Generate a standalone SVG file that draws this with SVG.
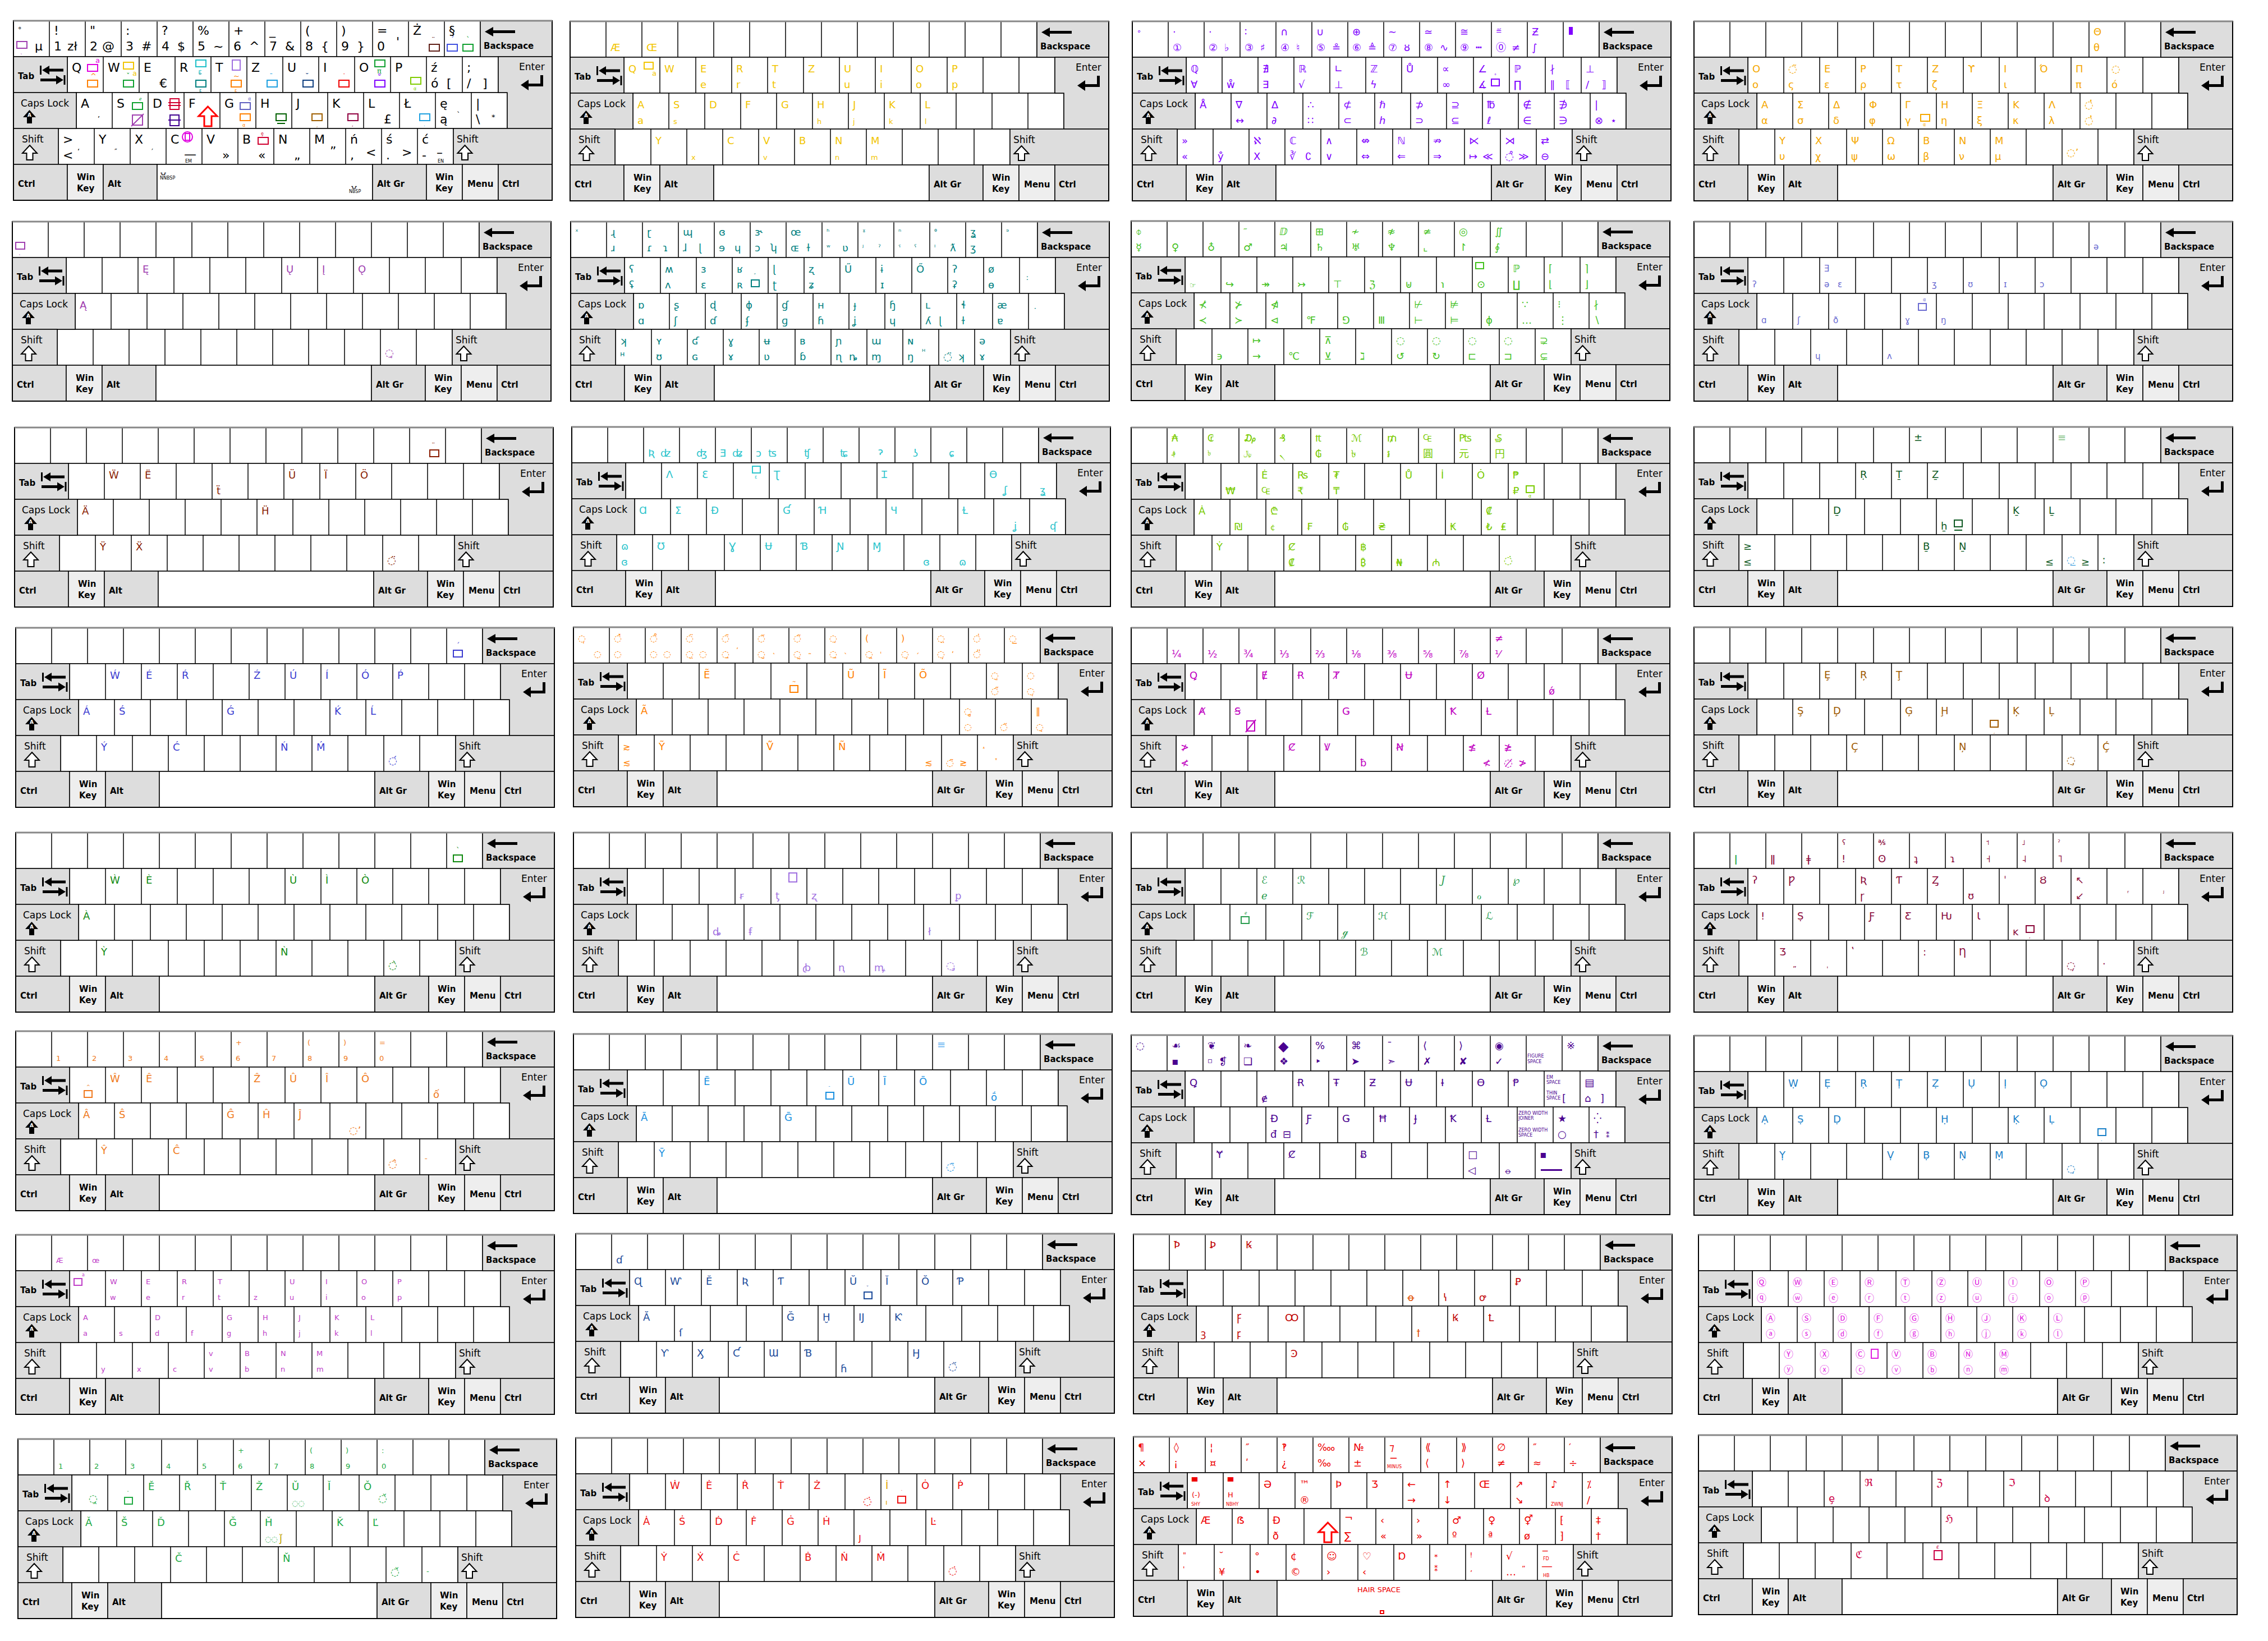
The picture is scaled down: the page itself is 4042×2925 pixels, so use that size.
<svg xmlns="http://www.w3.org/2000/svg" xmlns:xlink="http://www.w3.org/1999/xlink" width="4042" height="2925" viewBox="0 0 4042 2925">
<style>
.w{fill:#fff;stroke:#000;stroke-width:1.5}
.g{fill:#ddd;stroke:#000;stroke-width:1.5}
.l{fill:#eee;stroke:#000;stroke-width:1.5}
.lb{font:bold 15px "DejaVu Sans",sans-serif;fill:#000}
.lr{font:17px "DejaVu Sans",sans-serif;fill:#000}
.io{fill:#fff;stroke:#000;stroke-width:2}
.ch{font-family:"DejaVu Sans","Noto Sans","Noto Sans CJK SC",sans-serif;font-size:18px;fill:currentColor}
.L{font-size:22px}
.s{font-size:13px}
.t{font-size:8px}
.bx{fill:none;stroke:currentColor;stroke-width:2}
.sc{font-family:"DejaVu Serif",serif;font-style:italic}
.pu{color:#a040b0}.br{color:#602018}.bl{color:#4050e0}.gr{color:#10a030}.mg{color:#e000e0}.or{color:#ff8000}.ye{color:#f0c400}.cy{color:#20c0c8}.te{color:#008080}.la{color:#a070e0}.lbl{color:#1ea0e0}.nv{color:#104080}.rd{color:#f00000}.vi{color:#8000ff}.yg{color:#80cc00}.cr{color:#d00030}.in{color:#400090}.sb{color:#6060c0}.dg{color:#006000}.bn{color:#a06000}.mr{color:#900040}
</style>
<defs>
<path id="ra" d="M346.5 153L363 170H353V188H340V170H330Z" fill="#fff" stroke="#f00" stroke-width="3"/>
<g id="kb">
<path class="w" d="M0 0h64v64h-64z m64 0h64v64h-64z m64 0h64v64h-64z m64 0h64v64h-64z m64 0h64v64h-64z m64 0h64v64h-64z m64 0h64v64h-64z m64 0h64v64h-64z m64 0h64v64h-64z m64 0h64v64h-64z m64 0h64v64h-64z m64 0h64v64h-64z m64 0h64v64h-64z"/>
<path class="w" d="M96 64h64v64h-64z m64 0h64v64h-64z m64 0h64v64h-64z m64 0h64v64h-64z m64 0h64v64h-64z m64 0h64v64h-64z m64 0h64v64h-64z m64 0h64v64h-64z m64 0h64v64h-64z m64 0h64v64h-64z m64 0h64v64h-64z m64 0h64v64h-64z"/>
<path class="w" d="M112 128h64v64h-64z m64 0h64v64h-64z m64 0h64v64h-64z m64 0h64v64h-64z m64 0h64v64h-64z m64 0h64v64h-64z m64 0h64v64h-64z m64 0h64v64h-64z m64 0h64v64h-64z m64 0h64v64h-64z m64 0h64v64h-64z m64 0h64v64h-64z"/>
<path class="w" d="M80 192h64v64h-64z m64 0h64v64h-64z m64 0h64v64h-64z m64 0h64v64h-64z m64 0h64v64h-64z m64 0h64v64h-64z m64 0h64v64h-64z m64 0h64v64h-64z m64 0h64v64h-64z m64 0h64v64h-64z m64 0h64v64h-64z"/>
<rect class="g" x="832" y="0" width="128" height="64"/>
<rect class="g" x="0" y="64" width="96" height="64"/>
<path class="g" d="M864 64H960V192H880V128H864Z"/>
<rect class="g" x="0" y="128" width="112" height="64"/>
<rect class="g" x="0" y="192" width="80" height="64"/>
<rect class="g" x="784" y="192" width="176" height="64"/>
<rect class="g" x="0" y="256" width="96" height="64"/>
<rect class="l" x="96" y="256" width="64" height="64"/>
<rect class="g" x="160" y="256" width="96" height="64"/>
<rect class="w" x="256" y="256" width="384" height="64"/>
<rect class="g" x="640" y="256" width="96" height="64"/>
<rect class="l" x="736" y="256" width="64" height="64"/>
<rect class="l" x="800" y="256" width="64" height="64"/>
<rect class="g" x="864" y="256" width="96" height="64"/>
<rect x="0" y="0" width="960" height="320" fill="none" stroke="#000" stroke-width="2"/>
<path d="M0 0H960" stroke="#888" stroke-width="3"/>
<path d="M840 19.5L855 11V17H894V22H855V28Z"/>
<rect x="47" y="80" width="3" height="16"/><path d="M51 88L64 80V85.5H89V90.5H64V96Z"/>
<path d="M48 103H76V97.5L89 105.5L76 113.5V108H48Z"/><rect x="89.5" y="97" width="3" height="17"/>
<path d="M904 114.5L918 105V112H939V97H944V117H918V124Z"/>
<path d="M28.5 159L40 172H33V183H24V172H17Z"/><text x="28.5" y="171" text-anchor="middle" style="font:bold 9px 'DejaVu Sans',sans-serif;fill:#fff">A</text>
<path class="io" d="M29 222L42 236H34.5V248H23.5V236H16Z"/>
<path class="io" d="M804.5 222L817.5 236H810V248H799V236H791.5Z"/>
<text class="lb" x="838" y="50">Backspace</text>
<text class="lb" x="8" y="104">Tab</text>
<text class="lr" x="901" y="88">Enter</text>
<text class="lr" x="13" y="153">Caps Lock</text>
<text class="lr" x="15" y="217">Shift</text>
<text class="lr" x="790" y="217">Shift</text>
<text class="lb" x="8" y="296">Ctrl</text>
<text class="lb" x="113" y="284">Win</text><text class="lb" x="113" y="304">Key</text>
<text class="lb" x="168" y="296">Alt</text>
<text class="lb" x="648" y="296">Alt Gr</text>
<text class="lb" x="752" y="284">Win</text><text class="lb" x="752" y="304">Key</text>
<text class="lb" x="809" y="296">Menu</text>
<text class="lb" x="871" y="296">Ctrl</text>
</g>
</defs>

<g id="kb01" transform="translate(24 37)"><use href="#kb"/>
<g class="ch L" style="color:#000">
<text class="s" x="8" y="20">°</text><rect class="bx pu" x="6" y="37" width="18" height="12"/><text class="t pu" x="12" y="58">˛</text><text x="38" y="53">μ</text>
<text x="72" y="25">!</text><text x="72" y="53">1</text><text x="96" y="53">zł</text>
<text x="136" y="25">"</text><text x="136" y="53">2</text><text x="158" y="53">@</text>
<text x="200" y="25">:</text><text x="200" y="53">3</text><text x="228" y="53">#</text>
<text x="264" y="25">?</text><text x="264" y="53">4</text><text x="292" y="53">$</text>
<text x="328" y="25">%</text><text x="328" y="53">5</text><text x="356" y="53">~</text>
<text x="392" y="25">+</text><text x="392" y="53">6</text><text x="420" y="53">^</text>
<text x="456" y="25">_</text><text x="456" y="53">7</text><text x="484" y="53">&amp;</text>
<text x="520" y="25">(</text><text x="520" y="53">8</text><text x="548" y="53">{</text>
<text x="584" y="25">)</text><text x="584" y="53">9</text><text x="612" y="53">}</text>
<text x="648" y="25">=</text><text x="648" y="53">0</text><text x="682" y="45">'</text>
<text x="712" y="25">Ż</text><rect class="bx br" x="741" y="42" width="18" height="12"/><text class="s br" x="745" y="38">¨</text>
<text x="776" y="25">§</text><rect class="bx bl" x="773" y="42" width="18" height="12"/><text class="s bl" x="779" y="38">´</text><rect class="bx gr" x="801" y="42" width="18" height="12"/><text class="s gr" x="807" y="38">`</text>
<text x="104" y="91">Q</text><rect class="bx mg" x="132" y="78" width="18" height="12"/><text class="s mg" x="146" y="75">a</text><rect class="bx or" x="132" y="106" width="18" height="12"/><text class="s or" x="137" y="103">^</text>
<text x="168" y="91">W</text><rect class="bx ye" x="196" y="74" width="18" height="12"/><text class="s ye" x="212" y="98">a</text><rect class="bx gr" x="196" y="106" width="18" height="12"/><text class="s gr" x="201" y="103">ˇ</text>
<text x="232" y="91">E</text><text x="260" y="119">€</text>
<text x="296" y="91">R</text><rect class="bx cy" x="325" y="70" width="18" height="12"/><text class="s cy" x="329" y="95">ε</text><rect class="bx te" x="325" y="106" width="18" height="12"/><text class="s te" x="329" y="104">˝</text><text class="t te" x="331" y="127">ε</text>
<text x="360" y="91">T</text><rect class="bx la" x="390" y="70" width="14" height="18"/><text class="s or" x="392" y="103">~</text><rect class="bx or" x="388" y="106" width="18" height="12"/><text class="t or" x="394" y="127">ε</text>
<text x="424" y="91">Z</text><rect class="bx lbl" x="452" y="106" width="18" height="12"/><text class="s lbl" x="456" y="103">¯</text>
<text x="488" y="91">U</text><rect class="bx nv" x="516" y="106" width="18" height="12"/><text class="s nv" x="520" y="103">˘</text>
<text x="552" y="91">I</text><rect class="bx rd" x="580" y="106" width="18" height="12"/><text class="s rd" x="586" y="103">˙</text>
<text x="616" y="91">O</text><rect class="bx gr" x="644" y="70" width="18" height="12"/><text class="s gr" x="648" y="94">π</text><rect class="bx vi" x="644" y="106" width="18" height="12"/><text class="s vi" x="649" y="103">°</text>
<text x="680" y="91">P</text><rect class="bx yg" x="708" y="101" width="18" height="12"/><text class="t yg" x="713" y="124">α</text>
<text x="744" y="91">ź</text><text x="744" y="119">ó</text><text x="772" y="119">[</text>
<text x="808" y="91">;</text><text x="808" y="119">/</text><text x="836" y="119">]</text>
<text x="120" y="155">A</text><text class="s" x="150" y="172">,</text>
<text x="184" y="155">S</text><rect class="bx gr" x="212" y="146" width="18" height="12"/><text class="t gr" x="224" y="142">ℯ</text><rect class="bx pu" x="212" y="168" width="18" height="18"/><path class="bx pu" d="M210 188L232 166"/>
<text x="248" y="155">D</text><rect class="bx cr" x="279" y="139" width="16" height="19"/><path class="bx cr" d="M276 146H298M276 151H298"/><rect class="bx in" x="279" y="168" width="16" height="19"/><path class="bx in" d="M276 177H298"/>
<text x="312" y="155">F</text><use href="#ra"/>
<text x="376" y="155">G</text><rect class="bx sb" x="404" y="146" width="18" height="12"/><text class="t sb" x="418" y="142">α</text><rect class="bx or" x="404" y="166" width="18" height="12"/><text class="t or" x="408" y="189">α</text>
<text x="440" y="155">H</text><rect class="bx dg" x="468" y="166" width="18" height="12"/><path class="bx dg" d="M470 183H484"/>
<text x="504" y="155">J</text><rect class="bx bn" x="532" y="166" width="18" height="12"/><text class="t bn" x="539" y="188">¸</text>
<text x="568" y="155">K</text><rect class="bx mr" x="596" y="166" width="18" height="12"/><text class="t mr" x="603" y="188">,</text>
<text x="632" y="155">L</text><text x="660" y="183">£</text>
<text x="696" y="155">Ł</text><rect class="bx lbl" x="724" y="166" width="18" height="12"/><text class="t lbl" x="731" y="188">.</text>
<text x="760" y="155">ę</text><text x="760" y="183">ą</text><text class="s" x="790" y="172">`</text>
<text x="824" y="155">|</text><text x="824" y="183">\</text><text class="s" x="852" y="176">*</text>
<text x="88" y="219">&gt;</text><text x="88" y="247">&lt;</text><text class="s" x="114" y="237">‘</text>
<text x="152" y="219">Y</text><text class="s" x="180" y="237">″</text>
<text x="216" y="219">X</text><text class="s" x="246" y="237">′</text>
<text x="280" y="219">C</text><circle class="bx mg" cx="310" cy="207" r="9"/><rect class="bx mg" x="306" y="201" width="8" height="12"/><text x="304" y="245">—</text><text class="t" x="306" y="253">EM</text>
<text x="344" y="219">V</text><text x="372" y="247">»</text>
<text x="408" y="219">B</text><rect class="bx cr" x="436" y="208" width="18" height="12"/><text class="t cr" x="441" y="204">ȩ</text><text x="436" y="247">«</text>
<text x="472" y="219">N</text><text x="500" y="247">„</text>
<text x="536" y="219">M</text><text x="564" y="240">”</text>
<text x="600" y="219">ń</text><text x="600" y="247">,</text><text x="628" y="242">&lt;</text>
<text x="664" y="219">ś</text><text x="664" y="247">.</text><text x="692" y="242">&gt;</text>
<text x="728" y="219">ć</text><text x="728" y="247">-</text><text x="754" y="242">–</text><text class="t" x="756" y="253">EN</text>
<text class="s" x="262" y="272">⍽</text><text class="t" x="261" y="283">NNBSP</text>
<text class="s" x="602" y="296">⍽</text><text class="t" x="598" y="307">NBSP</text>
</g></g>

<g id="kb02" transform="translate(1016 38)"><use href="#kb"/>
<g class="ch" style="color:#f2c500">
<text x="72" y="53">Æ</text><text x="136" y="53">Œ</text>
<text x="104" y="91">Q</text><rect class="bx" x="132" y="73" width="16" height="12"/><text class="s" x="146" y="97">a</text>
<text x="168" y="91">W</text><text x="232" y="91">E</text><text x="232" y="119">e</text><text x="296" y="91">R</text><text x="296" y="119">r</text><text x="360" y="91">T</text><text x="360" y="119">t</text><text x="424" y="91">Z</text><text x="488" y="91">U</text><text x="488" y="119">u</text><text x="552" y="91">I</text><text x="552" y="119">i</text><text x="616" y="91">O</text><text x="616" y="119">o</text><text x="680" y="91">P</text><text x="680" y="119">p</text>
<text x="120" y="155">A</text><text x="120" y="183">a</text><text x="184" y="155">S</text><text class="s" x="184" y="183">s</text><text x="248" y="155">D</text><text x="312" y="155">F</text><text x="376" y="155">G</text><text x="440" y="155">H</text><text class="s" x="440" y="183">h</text><text x="504" y="155">J</text><text class="s" x="504" y="183">j</text><text x="568" y="155">K</text><text class="s" x="568" y="183">k</text><text x="632" y="155">L</text><text class="s" x="632" y="183">l</text>
<text x="152" y="219">Y</text><text class="s" x="216" y="247">x</text><text x="280" y="219">C</text><text x="344" y="219">V</text><text class="s" x="344" y="247">v</text><text x="408" y="219">B</text><text x="472" y="219">N</text><text class="s" x="472" y="247">n</text><text x="536" y="219">M</text><text class="s" x="536" y="247">m</text>
</g></g>

<g id="kb03" transform="translate(2018 38)"><use href="#kb"/>
<g class="ch" style="color:#8000ff">
<text class="s" x="8" y="22">∘</text>
<text x="72" y="25">·</text><text x="72" y="53">①</text>
<text x="136" y="25">·</text><text x="136" y="53">②</text><text x="164" y="53">♭</text>
<text x="200" y="25">∶</text><text x="200" y="53">③</text><text x="228" y="53">♯</text>
<text x="264" y="25">∩</text><text x="264" y="53">④</text><text x="292" y="53">♮</text>
<text x="328" y="25">∪</text><text x="328" y="53">⑤</text><text x="356" y="53">≗</text>
<text x="392" y="25">⊕</text><text x="392" y="53">⑥</text><text x="420" y="53">≜</text>
<text x="456" y="25">∼</text><text x="456" y="53">⑦</text><text x="484" y="53">ȣ</text>
<text x="520" y="25">≃</text><text x="520" y="53">⑧</text><text x="548" y="53">∿</text>
<text x="584" y="25">≅</text><text x="584" y="53">⑨</text><text x="612" y="53">┅</text>
<text class="s" x="648" y="22">≝</text><text x="648" y="53">⓪</text><text x="676" y="53">≠</text>
<text x="712" y="25">Ƶ</text><text x="712" y="53">∫</text>
<rect x="778" y="10" width="7" height="14" fill="#8000ff"/>
<text x="104" y="91">ℚ</text><text x="104" y="119">∀</text>
<text x="168" y="119">ẘ</text>
<text x="232" y="91">∄</text><text x="232" y="119">∃</text>
<text x="296" y="91">ℝ</text><text x="296" y="119">√</text>
<text x="360" y="91">∟</text><text x="360" y="119">⊥</text>
<text x="424" y="91">ℤ</text><text x="424" y="119">ϟ</text>
<text x="488" y="91">Ů</text>
<text x="552" y="91">∝</text><text x="552" y="119">∞</text>
<text x="616" y="91">∠</text><text x="616" y="119">∡</text><rect class="bx" x="640" y="103" width="14" height="12"/><text class="t" x="645" y="100">°</text>
<text x="680" y="91">ℙ</text><text x="680" y="119">∏</text>
<text x="744" y="91">∤</text><text x="744" y="119">∥</text><text x="772" y="119">⟦</text>
<text x="808" y="91">⊥</text><text x="808" y="119">/</text><text x="836" y="119">⟧</text>
<text x="120" y="155">Å</text>
<text x="184" y="155">∇</text><text x="184" y="183">↔</text>
<text x="248" y="155">∆</text><text x="248" y="183">∂</text>
<text x="312" y="155">∴</text><text x="312" y="183">∷</text>
<text x="376" y="155">⊄</text><text x="376" y="183">⊂</text>
<text x="440" y="155">ℏ</text><text x="440" y="183">ℎ</text>
<text x="504" y="155">⊅</text><text x="504" y="183">⊃</text>
<text x="568" y="155">⊇</text><text x="568" y="183">⊆</text>
<text x="632" y="155">℔</text><text x="632" y="183">ℓ</text>
<text x="696" y="155">∉</text><text x="696" y="183">∈</text>
<text x="760" y="155">∌</text><text x="760" y="183">∋</text>
<text x="824" y="155">|</text><text x="824" y="183">⊗</text><text x="852" y="183">⋆</text>
<text x="88" y="219">»</text><text x="88" y="247">«</text>
<text x="152" y="247">ẙ</text>
<text x="216" y="219">ℵ</text><text x="216" y="247">X</text>
<text x="280" y="219">ℂ</text><text x="280" y="247">∛</text><text x="308" y="247">∁</text>
<text x="344" y="219">∧</text><text x="344" y="247">∨</text>
<text x="408" y="219">⇎</text><text x="408" y="247">⇔</text>
<text x="472" y="219">ℕ</text><text x="472" y="247">⇐</text>
<text x="536" y="219">⇏</text><text x="536" y="247">⇒</text>
<text x="600" y="219">⋉</text><text x="600" y="247">↦</text><text x="624" y="247">≪</text>
<text x="664" y="219">⋊</text><text x="664" y="247">◌̊</text><text x="688" y="247">≫</text>
<text x="728" y="219">⇄</text><text x="728" y="247">⊖</text>
</g></g>

<g id="kb04" transform="translate(3019 38)"><use href="#kb"/>
<g class="ch" style="color:#f5a800">
<text x="712" y="25">Θ</text><text x="712" y="53">θ</text>
<text x="104" y="91">Ο</text><text x="104" y="119">ο</text>
<text x="168" y="91">◌̃</text><text x="168" y="119">ς</text>
<text x="232" y="91">Ε</text><text x="232" y="119">ε</text>
<text x="296" y="91">Ρ</text><text x="296" y="119">ρ</text>
<text x="360" y="91">Τ</text><text x="360" y="119">τ</text>
<text x="424" y="91">Ζ</text><text x="424" y="119">ζ</text>
<text x="488" y="91">ϒ</text>
<text x="552" y="91">Ι</text><text x="552" y="119">ι</text>
<text x="616" y="91">Ό</text>
<text x="680" y="91">Π</text><text x="680" y="119">π</text>
<text x="744" y="91">◌</text><text x="744" y="119">ό</text>
<text x="120" y="155">Α</text><text x="120" y="183">α</text>
<text x="184" y="155">Σ</text><text x="184" y="183">σ</text>
<text x="248" y="155">Δ</text><text x="248" y="183">δ</text>
<text x="312" y="155">Φ</text><text x="312" y="183">φ</text>
<text x="376" y="155">Γ</text><text x="376" y="183">γ</text><rect class="bx" x="404" y="166" width="16" height="12"/><text class="t" x="408" y="187">α</text>
<text x="440" y="155">Η</text><text x="440" y="183">η</text>
<text x="504" y="155">Ξ</text><text x="504" y="183">ξ</text>
<text x="568" y="155">Κ</text><text x="568" y="183">κ</text>
<text x="632" y="155">Λ</text><text x="632" y="183">λ</text>
<text x="696" y="155">◌̔</text><text x="696" y="183">◌̓</text>
<text x="152" y="219">Υ</text><text x="152" y="247">υ</text>
<text x="216" y="219">Χ</text><text x="216" y="247">χ</text>
<text x="280" y="219">Ψ</text><text x="280" y="247">ψ</text>
<text x="344" y="219">Ω</text><text x="344" y="247">ω</text>
<text x="408" y="219">Β</text><text x="408" y="247">β</text>
<text x="472" y="219">Ν</text><text x="472" y="247">ν</text>
<text x="536" y="219">Μ</text><text x="536" y="247">μ</text>
<text x="664" y="240">◌ʼ</text>
</g></g>

<g id="kb05" transform="translate(22 395)"><use href="#kb"/>
<g class="ch" style="color:#a040b0">
<rect class="bx" x="6" y="37" width="16" height="12"/><text class="t" x="11" y="58">˛</text>
<text x="232" y="91">Ę</text><text x="488" y="91">Ų</text><text x="552" y="91">Į</text><text x="616" y="91">Ǫ</text>
<text x="120" y="155">Ą</text>
<text x="664" y="240">◌̨</text>
</g></g>

<g id="kb06" transform="translate(1017 395)"><use href="#kb"/>
<g class="ch" style="color:#008080">
<text class="s" x="8" y="22">ˣ</text>
<text x="72" y="25">ɻ</text><text x="72" y="53">ɹ</text>
<text x="136" y="25">ɽ</text><text x="136" y="53">ɾ</text><text x="164" y="53">ɿ</text>
<text x="200" y="25">ɰ</text><text x="200" y="53">ɺ</text><text x="228" y="53">ɭ</text>
<text x="264" y="25">ɞ</text><text x="264" y="53">ɘ</text><text x="292" y="53">ɥ</text>
<text x="328" y="25">ɝ</text><text x="328" y="53">ɔ</text><text x="356" y="53">ʮ</text>
<text x="392" y="25">œ</text><text x="392" y="53">ɶ</text><text x="420" y="53">ɫ</text>
<text class="s" x="456" y="22">ʰ</text><text class="s" x="456" y="50">ʷ</text><text x="484" y="53">ʋ</text>
<text class="s" x="520" y="22">ˠ</text><text class="s" x="520" y="50">ʲ</text><text class="s" x="548" y="50">ˀ</text>
<text class="s" x="584" y="22">ⁿ</text><text class="s" x="584" y="50">ˤ</text><text class="s" x="612" y="50">ˁ</text>
<text class="s" x="648" y="22">ᶿ</text><text class="s" x="648" y="50">ˡ</text><text x="676" y="53">ƛ</text>
<text x="712" y="25">ʓ</text><text x="712" y="53">ʒ</text>
<text class="s" x="776" y="22">ᵊ</text>
<text x="104" y="91">ʕ</text><text x="104" y="119">ʢ</text>
<text x="168" y="91">ʍ</text><text x="168" y="119">ʌ</text>
<text x="232" y="91">ɜ</text><text x="232" y="119">ɛ</text>
<text x="296" y="91">ʁ</text><text x="296" y="119">ʀ</text><rect class="bx" x="322" y="104" width="14" height="12"/><text class="t" x="326" y="100">˝</text>
<text x="360" y="91">ɭ</text><text x="360" y="119">ʈ</text>
<text x="424" y="91">ʐ</text><text x="424" y="119">ʑ</text>
<text x="488" y="91">Ű</text>
<text x="552" y="91">ɨ</text><text x="552" y="119">ɪ</text>
<text x="616" y="91">Ő</text>
<text x="680" y="91">ʔ</text><text x="680" y="119">ʡ</text>
<text x="744" y="91">ø</text><text x="744" y="119">ɵ</text>
<text class="s" x="812" y="104">ː</text>
<text x="120" y="155">ɒ</text><text x="120" y="183">ɑ</text>
<text x="184" y="155">ʂ</text><text x="184" y="183">ʃ</text>
<text x="248" y="155">ɖ</text><text x="248" y="183">ɗ</text>
<text x="312" y="155">ɸ</text><text x="312" y="183">ʄ</text>
<text x="376" y="155">ɠ</text><text x="376" y="183">ɡ</text>
<text x="440" y="155">ʜ</text><text x="440" y="183">ɦ</text>
<text x="504" y="155">ɟ</text><text x="504" y="183">ʝ</text>
<text x="568" y="155">ɧ</text><text x="568" y="183">ɥ</text>
<text x="632" y="155">ʟ</text><text x="632" y="183">ʎ</text><text x="656" y="183">ɭ</text>
<text x="696" y="155">ɬ</text><text x="696" y="183">ɫ</text>
<text x="760" y="155">æ</text><text x="760" y="183">ɐ</text>
<text class="s" x="826" y="160">ˑ</text>
<text x="88" y="219">ʞ</text><text class="s" x="88" y="240">ʜ</text>
<text x="152" y="219">ʏ</text><text x="152" y="247">ʊ</text>
<text x="216" y="219">ʛ</text><text x="216" y="247">ɢ</text>
<text x="280" y="219">ɣ</text><text x="280" y="247">ɤ</text>
<text x="344" y="219">ʉ</text><text x="344" y="247">ʋ</text>
<text x="408" y="219">ʙ</text><text x="408" y="247">ɓ</text>
<text x="472" y="219">ɲ</text><text x="472" y="247">ɳ</text><text x="496" y="247">ȵ</text>
<text x="536" y="219">ɯ</text><text x="536" y="247">ɱ</text>
<text x="600" y="219">ɴ</text><text x="600" y="247">ŋ</text><text class="s" x="626" y="236">ᴴ</text>
<text x="664" y="247">◌̈</text><text x="690" y="247">ʞ</text>
<text x="728" y="219">ə</text><text x="728" y="247">ɤ</text>
</g></g>

<g id="kb07" transform="translate(2016 394)"><use href="#kb"/>
<g class="ch" style="color:#44c21e">
<text x="8" y="25">⌽</text><text x="8" y="53">☿</text>
<text x="72" y="53">♀</text>
<text x="136" y="53">♁</text>
<text class="s" x="200" y="22">‴</text><text x="200" y="53">♂</text>
<text x="264" y="25">ⅅ</text><text x="264" y="53">♃</text>
<text x="328" y="25">⊞</text><text x="328" y="53">♄</text>
<text x="392" y="25">≁</text><text x="392" y="53">♅</text>
<text x="456" y="25">≉</text><text x="456" y="53">♆</text>
<text x="520" y="25">≄</text><text x="520" y="53">⌞</text>
<text x="584" y="25">◎</text><text x="584" y="53">↾</text>
<text x="648" y="25">∬</text><text x="648" y="53">∮</text>
<text class="s" x="104" y="119">☞</text>
<text x="168" y="119">↪</text>
<text x="232" y="119">↠</text>
<text x="296" y="119">↣</text>
<text x="360" y="119">⊤</text>
<text x="424" y="119">ℨ</text>
<text x="488" y="119">⊎</text>
<text x="552" y="119">℩</text>
<rect class="bx" x="614" y="74" width="14" height="11"/><text x="616" y="119">⊙</text>
<text x="680" y="91">ℙ</text><text x="680" y="119">∐</text>
<text x="744" y="91">⌈</text><text x="744" y="119">⌊</text>
<text x="808" y="91">⌉</text><text x="808" y="119">⌋</text>
<text x="120" y="155">⊀</text><text x="120" y="183">≺</text>
<text x="184" y="155">⊁</text><text x="184" y="183">≻</text>
<text x="248" y="155">⋪</text><text x="248" y="183">⊲</text>
<text x="312" y="183">℉</text>
<text x="376" y="183">⅁</text>
<text x="440" y="183">Ⅲ</text>
<text x="504" y="155">⊬</text><text x="504" y="183">⊢</text>
<text x="568" y="155">⊭</text><text x="568" y="183">⊨</text>
<text x="632" y="183">ϕ</text>
<text x="696" y="155">∵</text><text x="696" y="183">…</text>
<text x="760" y="155">⁝</text><text x="760" y="183">⋮</text>
<text x="824" y="155">∤</text><text x="824" y="183">∖</text>
<text x="152" y="247">϶</text>
<text x="216" y="219">↦</text><text x="216" y="247">→</text>
<text x="280" y="247">℃</text>
<text x="344" y="219">⊼</text><text x="344" y="247">⊻</text>
<text x="408" y="247">ℷ</text>
<text x="472" y="219">◌</text><text x="472" y="247">↺</text>
<text x="536" y="219">◌</text><text x="536" y="247">↻</text>
<text x="600" y="219">◌</text><text x="600" y="247">⊏</text>
<text x="664" y="219">◌</text><text x="664" y="247">⊐</text>
<text x="728" y="219">⊋</text><text x="728" y="247">⊊</text>
</g></g>

<g id="kb08" transform="translate(3019 395)"><use href="#kb"/>
<g class="ch" style="color:#6a6ad0;font-size:15px">
<text x="712" y="50">ə</text>
<text x="104" y="117">ʔ</text>
<text x="232" y="89">Ǝ</text><text x="232" y="117">ə</text><text x="256" y="117">ɛ</text>
<text x="424" y="117">ʒ</text><text x="488" y="117">ʊ</text><text x="552" y="117">ɪ</text><text x="616" y="117">ɔ</text>
<text x="120" y="181">ɑ</text><text x="184" y="181">ʃ</text><text x="248" y="181">ð</text>
<text x="376" y="181">ɣ</text><rect class="bx" x="400" y="146" width="14" height="12"/><text class="t" x="408" y="142">α</text>
<text x="440" y="181">ŋ</text>
<text x="216" y="245">ɥ</text><text x="344" y="245">ʌ</text>
</g></g>

<g id="kb09" transform="translate(26 762)"><use href="#kb"/>
<g class="ch" style="color:#8a1c00">
<rect class="bx" x="740" y="40" width="16" height="12"/><text class="s" x="743" y="36">¨</text>
<text x="168" y="91">Ẅ</text><text x="232" y="91">Ë</text><text x="360" y="119">ẗ</text><text x="488" y="91">Ü</text><text x="552" y="91">Ï</text><text x="616" y="91">Ö</text>
<text x="120" y="155">Ä</text><text x="440" y="155">Ḧ</text>
<text x="152" y="219">Ÿ</text><text x="216" y="219">Ẍ</text><text x="664" y="243">◌̈</text>
</g></g>

<g id="kb10" transform="translate(1019 761)"><use href="#kb"/>
<g class="ch" style="color:#2cc4cc">
<text x="136" y="53">Ʀ</text><text x="158" y="53">ʣ</text>
<text x="222" y="53">ʤ</text>
<text x="264" y="53">Ǝ</text><text x="286" y="53">ʥ</text>
<text x="328" y="53">ɔ</text><text x="350" y="53">ʦ</text>
<text x="414" y="53">ʧ</text>
<text x="478" y="53">ʨ</text>
<text x="546" y="50">ɂ</text>
<text x="608" y="53">ʖ</text>
<text x="672" y="53">ɕ</text>
<text x="168" y="91">Ʌ</text><text x="232" y="91">Ɛ</text>
<rect class="bx" x="322" y="70" width="14" height="12"/><text class="t" x="326" y="92">ε</text>
<text x="360" y="91">Ʈ</text>
<text x="552" y="91">Ɪ</text>
<text x="744" y="91">Ɵ</text><text x="770" y="119">ʆ</text>
<text x="834" y="119">ʓ</text>
<text x="120" y="155">Ɑ</text><text x="184" y="155">Ʃ</text><text x="248" y="155">Ɖ</text><text x="376" y="155">Ɠ</text><text x="440" y="155">Ɦ</text><text x="568" y="155">Ɥ</text><text x="696" y="155">Ɫ</text>
<text x="788" y="183">ʝ</text><text x="852" y="183">ʠ</text>
<text x="88" y="219">ɷ</text><text x="88" y="247">ɞ</text>
<text x="152" y="219">Ʊ</text><text x="280" y="219">Ɣ</text><text x="344" y="219">Ʉ</text><text x="408" y="219">Ɓ</text><text x="472" y="219">Ɲ</text><text x="536" y="219">Ɱ</text>
<text x="626" y="247">ɞ</text><text x="690" y="247">ɷ</text>
</g></g>

<g id="kb11" transform="translate(2016 762)"><use href="#kb"/>
<g class="ch" style="color:#7acb00">
<text x="72" y="25">₳</text><text class="s" x="72" y="50">؋</text>
<text x="136" y="25">₢</text><text class="s" x="136" y="50">৳</text>
<text x="200" y="25">₯</text><text class="s" x="200" y="50">﷼</text>
<text x="264" y="25">₰</text><text x="264" y="53">৲</text>
<text x="328" y="25">₶</text><text x="328" y="53">₲</text>
<text x="392" y="25">ℳ</text><text x="392" y="53">৳</text>
<text x="456" y="25">₥</text><text x="456" y="53">៛</text>
<text x="520" y="25">₠</text><text x="520" y="53">圓</text>
<text x="584" y="25">₧</text><text x="584" y="53">元</text>
<text x="648" y="25">₷</text><text x="648" y="53">円</text>
<text x="168" y="119">₩</text>
<text x="232" y="91">Ė</text><text x="232" y="119">₠</text>
<text x="296" y="91">₨</text><text x="296" y="119">₹</text>
<text x="360" y="91">₮</text><text x="360" y="119">₸</text>
<text x="488" y="91">Ů</text><text x="552" y="91">İ</text><text x="616" y="91">Ȯ</text>
<text x="680" y="91">₱</text><text x="680" y="119">₽</text><rect class="bx" x="704" y="104" width="14" height="12"/><text class="t" x="708" y="125">α</text>
<text x="120" y="155">Ȧ</text>
<text x="184" y="183">₪</text>
<text x="248" y="155">₾</text><text class="s" x="248" y="183">₵</text>
<text x="312" y="183">₣</text>
<text x="376" y="183">₲</text>
<text x="440" y="183">₴</text>
<text x="568" y="183">₭</text>
<text x="632" y="155">₡</text><text x="632" y="183">₺</text><text x="658" y="183">₤</text>
<text x="152" y="219">Ẏ</text>
<text x="280" y="219">Ȼ</text><text x="280" y="247">₡</text>
<text x="408" y="219">฿</text><text x="408" y="247">₿</text>
<text x="472" y="247">₦</text>
<text x="536" y="247">₼</text>
<text x="664" y="243">◌̇</text>
</g></g>

<g id="kb12" transform="translate(3019 761)"><use href="#kb"/>
<g class="ch" style="color:#0f5a23">
<text x="392" y="25">±</text><text x="648" y="25" style="fill:#80c080">≡</text>
<text x="296" y="91">Ṛ</text><text x="360" y="91">Ṯ</text><text x="424" y="91">Ẕ</text>
<text x="248" y="155">Ḏ</text><text x="440" y="183">ẖ</text><rect class="bx" x="464" y="166" width="14" height="12"/><path class="bx" d="M464 184H478"/>
<text x="568" y="155">Ḵ</text><text x="632" y="155">Ḻ</text>
<text x="88" y="219">≥</text><text x="88" y="247">≤</text>
<text x="408" y="219">Ḇ</text><text x="472" y="219">Ṉ</text>
<text x="626" y="247">≤</text><text x="664" y="243" style="fill:#40a0e0">◌̲</text><text x="690" y="247">≥</text><text x="728" y="243">ː</text>
</g></g>

<g id="kb13" transform="translate(28 1119)"><use href="#kb"/>
<g class="ch" style="color:#3b3bd0">
<rect class="bx" x="780" y="40" width="16" height="12"/><text class="s" x="785" y="36">´</text>
<text x="168" y="91">Ẃ</text><text x="232" y="91">É</text><text x="296" y="91">Ŕ</text><text x="424" y="91">Ź</text><text x="488" y="91">Ú</text><text x="552" y="91">Í</text><text x="616" y="91">Ó</text><text x="680" y="91">Ṕ</text>
<text x="120" y="155">Á</text><text x="184" y="155">Ś</text><text x="376" y="155">Ǵ</text><text x="568" y="155">Ḱ</text><text x="632" y="155">Ĺ</text>
<text x="152" y="219">Ý</text><text x="280" y="219">Ć</text><text x="472" y="219">Ń</text><text x="536" y="219">Ḿ</text><text x="664" y="243">◌́</text>
</g></g>

<g id="kb14" transform="translate(1022 1118)"><use href="#kb"/>
<g class="ch" style="color:#ff8000;font-size:16px">
<text x="8" y="25">◌̩</text><text x="36" y="53">◌</text>
<text x="72" y="25">◌̽</text><text x="72" y="53">◌</text>
<text x="136" y="25">◌̊</text><text x="136" y="53">◌</text><text x="160" y="53">◌</text>
<text x="200" y="25">◌̈</text><text x="200" y="53">◌̤</text><text x="224" y="53">◌</text>
<text x="264" y="25">◌̄</text><text x="264" y="53">◌̱</text><text class="s" x="290" y="45">ʼ</text>
<text x="328" y="25">◌̆</text><text x="328" y="53">◌̮</text><text class="s" x="354" y="45">˛</text>
<text x="392" y="25">◌̃</text><text x="392" y="53">◌̰</text><text class="s" x="418" y="45">˷</text>
<text x="456" y="25">◌̣</text><text x="456" y="53">◌̱</text><text class="s" x="482" y="45">ˎ</text>
<text x="520" y="25">(</text><text x="520" y="53">◌̯</text><text class="s" x="546" y="45">ˌ</text>
<text x="584" y="25">)</text><text x="584" y="53">◌̦</text><text class="s" x="610" y="45">ˏ</text>
<text x="648" y="25">◌̤</text><text x="648" y="53">◌̦</text><text class="s" x="674" y="45">,</text>
<text x="712" y="25">◌̍</text><text x="712" y="53">◌̎</text>
<text x="776" y="25">◌̲</text>
<text style="font-size:18px" x="232" y="91">Ẽ</text><rect class="bx" x="386" y="104" width="14" height="12"/><text class="t" x="390" y="100">~</text>
<text style="font-size:18px" x="488" y="91">Ũ</text><text style="font-size:18px" x="552" y="91">Ĩ</text><text style="font-size:18px" x="616" y="91">Õ</text>
<text x="744" y="91">◌̠</text><text x="744" y="119">◌̋</text>
<text x="808" y="91">◌</text><text x="808" y="119">◌̜</text>
<text style="font-size:18px" x="120" y="155">Ã</text>
<text x="696" y="155">◌̻</text><text x="696" y="183">◌</text>
<text x="760" y="183">◌̆</text>
<text x="824" y="155">‖</text><text x="824" y="183">◌̨</text>
<text x="88" y="219">≳</text><text x="88" y="247">≲</text>
<text style="font-size:18px" x="152" y="219">Ỹ</text><text style="font-size:18px" x="344" y="219">Ṽ</text><text style="font-size:18px" x="472" y="219">Ñ</text>
<text x="626" y="247">≲</text><text x="664" y="247">◌̃</text><text x="688" y="247">≳</text>
<text class="s" x="728" y="219">˔</text><text class="s" x="750" y="240">˕</text>
</g></g>

<g id="kb15" transform="translate(2016 1119)"><use href="#kb"/>
<g class="ch" style="color:#c000c0">
<text x="72" y="53">¼</text><text x="136" y="53">½</text><text x="200" y="53">¾</text><text x="264" y="53">⅓</text><text x="328" y="53">⅔</text><text x="392" y="53">⅛</text><text x="456" y="53">⅜</text><text x="520" y="53">⅝</text><text x="584" y="53">⅞</text><text x="648" y="25">≠</text><text x="648" y="53">⅟</text>
<text x="104" y="91">Ꝗ</text><text x="232" y="91">Ɇ</text><text x="296" y="91">Ɍ</text><text x="360" y="91">Ⱦ</text><text x="488" y="91">Ʉ</text><text x="616" y="91">Ø</text><text x="744" y="119">ǿ</text>
<text x="120" y="155">Ⱥ</text><text x="184" y="155">Ꞩ</text><rect class="bx" x="206" y="166" width="14" height="18"/><path class="bx" d="M204 186L222 164"/>
<text x="376" y="155">Ǥ</text><text x="568" y="155">Ꝁ</text><text x="632" y="155">Ƚ</text>
<text x="88" y="219">≯</text><text x="88" y="247">≮</text>
<text x="280" y="219">Ȼ</text><text x="344" y="219">Ꝟ</text><text x="408" y="247">ƀ</text><text x="472" y="219">Ꞥ</text>
<text x="600" y="219">≰</text><text x="626" y="247">≮</text>
<text x="664" y="219">≱</text><text x="664" y="247">◌̸</text><text x="690" y="247">≯</text>
</g></g>

<g id="kb16" transform="translate(3019 1118)"><use href="#kb"/>
<g class="ch" style="color:#a05a00">
<text x="232" y="91">Ȩ</text><text x="296" y="91">Ŗ</text><text x="360" y="91">Ţ</text>
<text x="184" y="155">Ş</text><text x="248" y="155">Ḑ</text><text x="376" y="155">Ģ</text><text x="440" y="155">Ḩ</text><rect class="bx" x="528" y="166" width="14" height="12"/><text class="t" x="533" y="188">¸</text><text x="568" y="155">Ķ</text><text x="632" y="155">Ļ</text>
<text x="280" y="219">Ç</text><text x="472" y="219">Ņ</text><text x="664" y="243">◌̧</text><text x="728" y="219">Ḉ</text>
</g></g>

<g id="kb17" transform="translate(28 1484)"><use href="#kb"/>
<g class="ch" style="color:#108a10">
<rect class="bx" x="780" y="40" width="16" height="12"/><text class="s" x="785" y="36">`</text>
<text x="168" y="91">Ẁ</text><text x="232" y="91">È</text><text x="488" y="91">Ù</text><text x="552" y="91">Ì</text><text x="616" y="91">Ò</text>
<text x="120" y="155">À</text>
<text x="152" y="219">Ỳ</text><text x="472" y="219">Ǹ</text><text x="664" y="243">◌̀</text>
</g></g>

<g id="kb18" transform="translate(1022 1484)"><use href="#kb"/>
<g class="ch" style="color:#a070e0">
<text x="296" y="119">ꞧ</text><text x="360" y="119">ƫ</text><rect class="bx" x="384" y="72" width="14" height="16"/><text x="424" y="119">ʐ</text><text x="680" y="119">ꝑ</text>
<text x="248" y="183">ȡ</text><text x="312" y="183">ꞙ</text><text x="632" y="183">ł</text>
<text x="408" y="247">ꞗ</text><text x="472" y="247">ꞑ</text><text x="536" y="247">ꝳ</text><text x="664" y="243">◌̡</text>
</g></g>

<g id="kb19" transform="translate(2016 1484)"><use href="#kb"/>
<g class="ch" style="color:#2a9d50">
<text x="232" y="91">ℰ</text><text x="232" y="119">ℯ</text><text x="296" y="91">ℛ</text><text class="sc" x="552" y="91">J</text><text x="616" y="119">ℴ</text><text x="680" y="91">℘</text>
<rect class="bx" x="196" y="150" width="14" height="12"/><text class="t" x="202" y="146">ℯ</text>
<text x="312" y="155">ℱ</text><text x="376" y="183">ℊ</text><text x="440" y="155">ℋ</text><text x="632" y="155">ℒ</text>
<text x="408" y="219">ℬ</text><text x="536" y="219">ℳ</text>
</g></g>

<g id="kb20" transform="translate(3019 1484)"><use href="#kb"/>
<g class="ch" style="color:#8b0a3a">
<text x="72" y="53" style="fill:#20a040">ǀ</text><text x="136" y="53">ǁ</text><text x="200" y="53">ǂ</text>
<text class="s" x="264" y="22">ʕ</text><text x="264" y="53">ǃ</text>
<text class="s" x="328" y="22">℁</text><text x="328" y="53">ʘ</text>
<text x="392" y="53">ʇ</text><text x="456" y="53">ɿ</text>
<text class="s" x="520" y="22">˦</text><text x="520" y="53">˧</text>
<text class="s" x="584" y="22">˩</text><text x="584" y="53">˨</text>
<text class="s" x="648" y="22">ˀ</text><text x="648" y="53">˥</text>
<text x="104" y="91">ʔ</text><text x="168" y="91">Ƿ</text><text x="296" y="91">Ʀ</text><text x="296" y="119">ɼ</text><text x="360" y="91">Ƭ</text><text x="424" y="91">Ȥ</text><text x="488" y="119">ʊ</text><text x="552" y="91">ˈ</text><text x="616" y="91">Ȣ</text><text x="680" y="91">↖</text><text x="680" y="119">↙</text><text class="s" x="772" y="112">ʳ</text><text class="s" x="836" y="112">ʲ</text>
<text x="120" y="155">ǃ</text><text x="184" y="155">Ṣ</text><text x="312" y="155">Ƒ</text><text x="376" y="155">Ƹ</text><text x="440" y="155">Ƕ</text><text x="504" y="155">Ɩ</text><text x="568" y="183">ĸ</text><rect class="bx" x="592" y="166" width="14" height="12"/><text class="t" x="597" y="188">,</text>
<text x="152" y="219">Ʒ</text><text class="s" x="176" y="240">„</text><text class="s" x="236" y="240">ˌ</text><text x="280" y="219">ʽ</text><text x="408" y="219">꞉</text><text x="472" y="219">Ƞ</text><text x="664" y="243">◌̦</text><text x="728" y="240">·</text>
</g></g>

<g id="kb21" transform="translate(28 1838)"><use href="#kb"/>
<g class="ch" style="color:#f07a20">
<g class="s"><text x="72" y="53">1</text><text x="136" y="53">2</text><text x="200" y="53">3</text><text x="264" y="53">4</text><text x="328" y="53">5</text><text x="392" y="53">6</text><text x="456" y="53">7</text><text x="520" y="53">8</text><text x="584" y="53">9</text><text x="648" y="53">0</text><text x="392" y="25">+</text><text x="520" y="25">(</text><text x="584" y="25">)</text><text x="648" y="25">=</text></g>
<rect class="bx" x="122" y="106" width="14" height="12"/><text class="t" x="126" y="102">^</text>
<text x="168" y="91">Ŵ</text><text x="232" y="91">Ê</text><text x="424" y="91">Ẑ</text><text x="488" y="91">Û</text><text x="552" y="91">Î</text><text x="616" y="91">Ô</text><text x="744" y="119">ố</text>
<text x="120" y="155">Â</text><text x="184" y="155">Ŝ</text><text x="376" y="155">Ĝ</text><text x="440" y="155">Ĥ</text><text x="504" y="155">Ĵ</text><text x="594" y="183">◌ʼ</text>
<text x="152" y="219">Ŷ</text><text x="280" y="219">Ĉ</text><text x="664" y="243">◌̂</text><text class="s" x="728" y="236">ˉ</text>
</g></g>

<g id="kb22" transform="translate(1022 1843)"><use href="#kb"/>
<g class="ch" style="color:#1a90e0">
<text x="648" y="25" style="fill:#60b0f0">≡</text>
<text x="232" y="91">Ē</text><rect class="bx" x="450" y="104" width="14" height="12"/><text class="t" x="454" y="100">¯</text><text x="488" y="91">Ū</text><text x="552" y="91">Ī</text><text x="616" y="91">Ō</text><text x="744" y="119">ṓ</text>
<text x="120" y="155">Ā</text><text x="376" y="155">Ḡ</text>
<text x="152" y="219">Ȳ</text><text x="664" y="243">◌̄</text>
</g></g>

<g id="kb23" transform="translate(2016 1845)"><use href="#kb"/>
<g class="ch" style="color:#4a0090">
<text x="8" y="25">◌</text>
<text x="72" y="25">☙</text><text x="72" y="53">▪</text>
<text x="136" y="25">❦</text><text class="s" x="136" y="50">▫</text><text x="156" y="53">❡</text>
<text x="200" y="25">❧</text><text x="200" y="53">❑</text>
<text x="262" y="28" style="font-size:24px">◆</text><text x="264" y="53">❖</text>
<text x="328" y="25">%</text><text x="328" y="53">‣</text>
<text x="392" y="25">⌘</text><text x="392" y="53">➤</text>
<text x="456" y="25">¯</text><text x="456" y="53">➣</text>
<text x="520" y="25">⟨</text><text x="520" y="53">✗</text>
<text x="584" y="25">⟩</text><text x="584" y="53">✘</text>
<text x="648" y="25">◉</text><text x="648" y="53">✓</text>
<text class="t" x="706" y="40">FIGURE</text><text class="t" x="706" y="50">SPACE</text>
<text x="776" y="25">※</text>
<text x="104" y="91">Ꝗ</text><text x="232" y="119">ɇ</text><text x="296" y="91">Ɍ</text><text x="360" y="91">Ŧ</text><text x="424" y="91">Ƶ</text><text x="488" y="91">Ʉ</text><text x="552" y="91">Ɨ</text><text x="616" y="91">Ɵ</text><text x="680" y="91">Ᵽ</text>
<text class="t" x="740" y="78">EM</text><text class="t" x="740" y="87">SPACE</text><text class="t" x="740" y="106">THIN</text><text class="t" x="740" y="115">SPACE</text><text x="768" y="119">[</text>
<text x="808" y="91">▤</text><text x="808" y="119">⌂</text><text x="836" y="119">]</text>
<text x="248" y="155">Đ</text><text x="248" y="183">đ</text><text x="270" y="183">⊟</text><text x="312" y="155">Ƒ</text><text x="376" y="155">Ǥ</text><text x="440" y="155">Ħ</text><text x="504" y="155">Ɉ</text><text x="568" y="155">Ꝁ</text><text x="632" y="155">Ƚ</text>
<text class="t" x="690" y="142">ZERO WIDTH</text><text class="t" x="690" y="151">JOINER</text><text class="t" x="690" y="172">ZERO WIDTH</text><text class="t" x="690" y="181">SPACE</text>
<text x="760" y="155">★</text><text x="760" y="183">○</text>
<text x="824" y="155">⁛</text><text x="824" y="183">†</text><text class="s" x="846" y="183">⁑</text>
<text x="152" y="219">Ɏ</text><text x="280" y="219">Ȼ</text><text x="408" y="219">Ƀ</text>
<text x="600" y="219">□</text><text x="600" y="247">◁</text><text x="664" y="247">⦵</text>
<text x="728" y="219">▪</text><rect x="730" y="239" width="38" height="3" fill="#4a0090"/>
</g></g>

<g id="kb24" transform="translate(3019 1846)"><use href="#kb"/>
<g class="ch" style="color:#1a80c8">
<text x="168" y="91">Ẉ</text><text x="232" y="91">Ẹ</text><text x="296" y="91">Ṛ</text><text x="360" y="91">Ṭ</text><text x="424" y="91">Ẓ</text><text x="488" y="91">Ụ</text><text x="552" y="91">Ị</text><text x="616" y="91">Ọ</text>
<text x="120" y="155">Ạ</text><text x="184" y="155">Ṣ</text><text x="248" y="155">Ḍ</text><text x="440" y="155">Ḥ</text><text x="568" y="155">Ḳ</text><text x="632" y="155">Ḷ</text><rect class="bx" x="720" y="166" width="14" height="12"/><text class="t" x="725" y="188">.</text>
<text x="152" y="219">Ỵ</text><text x="344" y="219">Ṿ</text><text x="408" y="219">Ḅ</text><text x="472" y="219">Ṇ</text><text x="536" y="219">Ṃ</text><text x="664" y="243">◌̣</text>
</g></g>

<g id="kb25" transform="translate(28 2201)"><use href="#kb"/>
<g class="ch s" style="color:#c040c8">
<text x="72" y="50">Æ</text><text x="136" y="50">œ</text>
<rect class="bx" x="104" y="78" width="14" height="12"/><text class="t" x="118" y="74">a</text>
<text x="168" y="88">W</text><text x="168" y="116">w</text><text x="232" y="88">E</text><text x="232" y="116">e</text><text x="296" y="88">R</text><text x="296" y="116">r</text><text x="360" y="88">T</text><text x="360" y="116">t</text><text x="424" y="116">z</text><text x="488" y="88">U</text><text x="488" y="116">u</text><text x="552" y="88">I</text><text x="552" y="116">i</text><text x="616" y="88">O</text><text x="616" y="116">o</text><text x="680" y="88">P</text><text x="680" y="116">p</text>
<text x="120" y="152">A</text><text x="120" y="180">a</text><text x="184" y="180">s</text><text x="248" y="152">D</text><text x="248" y="180">d</text><text x="312" y="180">f</text><text x="376" y="152">G</text><text x="376" y="180">g</text><text x="440" y="152">H</text><text x="440" y="180">h</text><text x="504" y="152">J</text><text x="504" y="180">j</text><text x="568" y="152">K</text><text x="568" y="180">k</text><text x="632" y="152">L</text><text x="632" y="180">l</text>
<text x="152" y="244">y</text><text x="216" y="244">x</text><text x="280" y="244">c</text><text x="344" y="216">v</text><text x="344" y="244">v</text><text x="408" y="216">B</text><text x="408" y="244">b</text><text x="472" y="216">N</text><text x="472" y="244">n</text><text x="536" y="216">M</text><text x="536" y="244">m</text>
</g></g>

<g id="kb26" transform="translate(1026 2199)"><use href="#kb"/>
<g class="ch" style="color:#1d4c9b">
<text x="72" y="53">ɗ</text>
<text x="104" y="91">Ɋ</text><text x="168" y="91">Ⱳ</text><text x="232" y="91">Ĕ</text><text x="296" y="91">Ʀ</text><text x="360" y="91">Ƭ</text><text x="488" y="91">Ŭ</text><rect class="bx" x="514" y="104" width="14" height="12"/><text class="t" x="518" y="100">˘</text><text x="552" y="91">Ĭ</text><text x="616" y="91">Ŏ</text><text x="680" y="91">Ƥ</text>
<text x="120" y="155">Ă</text><text x="184" y="183">ſ</text><text x="376" y="155">Ğ</text><text x="440" y="155">Ḫ</text><text x="504" y="155">Ĳ</text><text x="568" y="155">Ƙ</text>
<text x="152" y="219">Ƴ</text><text x="216" y="219">Ӽ</text><text x="280" y="219">Ƈ</text><text x="344" y="219">Ɯ</text><text x="408" y="219">Ɓ</text><text x="472" y="247">ɦ</text><text x="600" y="219">Ꜧ</text><text x="664" y="243">◌̆</text>
</g></g>

<g id="kb27" transform="translate(2020 2200)"><use href="#kb"/>
<g class="ch" style="color:#c00000">
<text x="72" y="25">Ꝥ</text><text x="136" y="25">Ꝧ</text><text x="200" y="25">Ꝃ</text>
<text x="488" y="119" style="fill:#e05000">ꝋ</text><text x="552" y="119">ꝇ</text><text x="616" y="119">ꝍ</text><text x="680" y="91">Ꝑ</text>
<text x="120" y="183">ꝫ</text><text x="184" y="155">Ꝼ</text><text x="184" y="183">ꝼ</text><text x="270" y="155">Ꝏ</text><text x="504" y="183" style="fill:#e05000">ꝉ</text><text x="568" y="155">Ꝃ</text><text x="632" y="155">Ꝉ</text>
<text x="280" y="219">Ꜿ</text>
</g></g>

<g id="kb28" transform="translate(3027 2201)"><use href="#kb"/>
<g class="ch" style="color:#e020e0;font-size:17px">
<text x="104" y="91">Ⓠ</text><text x="104" y="119">ⓠ</text><text x="168" y="91">Ⓦ</text><text x="168" y="119">ⓦ</text><text x="232" y="91">Ⓔ</text><text x="232" y="119">ⓔ</text><text x="296" y="91">Ⓡ</text><text x="296" y="119">ⓡ</text><text x="360" y="91">Ⓣ</text><text x="360" y="119">ⓣ</text><text x="424" y="91">Ⓩ</text><text x="424" y="119">ⓩ</text><text x="488" y="91">Ⓤ</text><text x="488" y="119">ⓤ</text><text x="552" y="91">Ⓘ</text><text x="552" y="119">ⓘ</text><text x="616" y="91">Ⓞ</text><text x="616" y="119">ⓞ</text><text x="680" y="91">Ⓟ</text><text x="680" y="119">ⓟ</text>
<text x="120" y="155">Ⓐ</text><text x="120" y="183">ⓐ</text><text x="184" y="155">Ⓢ</text><text x="184" y="183">ⓢ</text><text x="248" y="155">Ⓓ</text><text x="248" y="183">ⓓ</text><text x="312" y="155">Ⓕ</text><text x="312" y="183">ⓕ</text><text x="376" y="155">Ⓖ</text><text x="376" y="183">ⓖ</text><text x="440" y="155">Ⓗ</text><text x="440" y="183">ⓗ</text><text x="504" y="155">Ⓙ</text><text x="504" y="183">ⓙ</text><text x="568" y="155">Ⓚ</text><text x="568" y="183">ⓚ</text><text x="632" y="155">Ⓛ</text><text x="632" y="183">ⓛ</text>
<text x="152" y="219">Ⓨ</text><text x="152" y="247">ⓨ</text><text x="216" y="219">Ⓧ</text><text x="216" y="247">ⓧ</text><text x="280" y="219">Ⓒ</text><text x="280" y="247">ⓒ</text><rect class="bx" x="308" y="204" width="12" height="16"/><text x="344" y="219">Ⓥ</text><text x="344" y="247">ⓥ</text><text x="408" y="219">Ⓑ</text><text x="408" y="247">ⓑ</text><text x="472" y="219">Ⓝ</text><text x="472" y="247">ⓝ</text><text x="536" y="219">Ⓜ</text><text x="536" y="247">ⓜ</text>
</g></g>

<g id="kb29" transform="translate(32 2565)"><use href="#kb"/>
<g class="ch" style="color:#22aa44">
<g class="s"><text x="72" y="53">1</text><text x="136" y="53">2</text><text x="200" y="53">3</text><text x="264" y="53">4</text><text x="328" y="53">5</text><text x="392" y="53">6</text><text x="456" y="53">7</text><text x="520" y="53">8</text><text x="584" y="53">9</text><text x="648" y="53">0</text><text x="392" y="25">+</text><text x="520" y="25">(</text><text x="584" y="25">)</text><text x="648" y="25">:</text></g>
<text x="126" y="112">◌̭</text><rect class="bx" x="190" y="104" width="14" height="12"/><text class="t" x="194" y="100">ˇ</text>
<text x="232" y="91">Ě</text><text x="296" y="91">Ř</text><text x="360" y="91">Ť</text><text x="424" y="91">Ž</text><text x="488" y="91">Ǔ</text><text class="s" x="488" y="119">◌◌</text><text x="552" y="91">Ǐ</text><text x="616" y="91">Ǒ</text><text x="642" y="112">◌̌</text>
<text x="120" y="155">Ǎ</text><text x="184" y="155">Š</text><text x="248" y="155">Ď</text><text x="376" y="155">Ǧ</text><text x="440" y="155">Ȟ</text><text class="s" x="440" y="183">◌◌</text><text x="466" y="183" style="fill:#c0a000">ǰ</text><text x="568" y="155">Ǩ</text><text x="632" y="155">Ľ</text>
<text x="280" y="219">Č</text><text x="472" y="219">Ň</text><text x="664" y="243">◌̌</text><text class="s" x="728" y="240">-</text>
</g></g>

<g id="kb30" transform="translate(1026 2563)"><use href="#kb"/>
<g class="ch" style="color:#ee1111">
<text x="168" y="91">Ẇ</text><text x="232" y="91">Ė</text><text x="296" y="91">Ṙ</text><text x="360" y="91">Ṫ</text><text x="424" y="91">Ż</text><text x="512" y="119">◌̇</text><text x="552" y="91" style="fill:#e0a000">İ</text><text class="s" x="552" y="119" style="fill:#e0a000">ı</text><rect class="bx" x="574" y="104" width="14" height="12"/><text class="t" x="579" y="100">˙</text><text x="616" y="91">Ȯ</text><text x="680" y="91">Ṗ</text>
<text x="120" y="155">Ȧ</text><text x="184" y="155">Ṡ</text><text x="248" y="155">Ḋ</text><text x="312" y="155">Ḟ</text><text x="376" y="155">Ġ</text><text x="440" y="155">Ḣ</text><text x="504" y="183">ȷ</text><text x="632" y="155">Ŀ</text>
<text x="152" y="219">Ẏ</text><text x="216" y="219">Ẋ</text><text x="280" y="219">Ċ</text><text x="408" y="219">Ḃ</text><text x="472" y="219">Ṅ</text><text x="536" y="219">Ṁ</text><text x="664" y="243">◌̇</text>
</g></g>

<g id="kb31" transform="translate(2020 2561)"><use href="#kb"/>
<g class="ch" style="color:#ee0000">
<text x="8" y="25">¶</text><text x="8" y="53">×</text>
<text x="72" y="25">◊</text><text x="72" y="53">¡</text>
<text x="136" y="25">¦</text><text x="136" y="53">¤</text>
<text x="200" y="25">″</text><text x="200" y="53">ʹ</text>
<text x="264" y="25">‽</text><text x="264" y="53">¿</text>
<text x="328" y="25">‱</text><text x="328" y="53">‰</text>
<text x="392" y="25">№</text><text x="392" y="53">±</text>
<text x="456" y="25">⁊</text><text x="456" y="44">−</text><text class="t" x="452" y="56">MINUS</text>
<text x="520" y="25">⟪</text><text x="520" y="53">⟨</text>
<text x="584" y="25">⟫</text><text x="584" y="53">⟩</text>
<text x="648" y="25">∅</text><text x="648" y="53">≠</text>
<text x="712" y="25">″</text><text x="712" y="53">≈</text>
<text x="776" y="25">′</text><text x="776" y="53">÷</text>
<text class="s" x="104" y="84">▀</text><text class="s" x="104" y="108">(-)</text><text class="t" x="103" y="123">SHY</text>
<text class="s" x="168" y="84">▀</text><text class="s" x="168" y="108">H</text><text class="t" x="165" y="123">NBHY</text>
<text x="232" y="91">Ə</text><text x="296" y="91">™</text><text x="296" y="119">®</text><text x="360" y="91">Þ</text><text x="424" y="91">Ʒ</text><text x="488" y="91">←</text><text x="488" y="119">→</text><text x="552" y="91">↑</text><text x="552" y="119">↓</text><text x="616" y="91">Œ</text><text x="680" y="91">↗</text><text x="680" y="119">↘</text><text x="744" y="91">♪</text><text class="t" x="744" y="123">ZWNJ</text><text x="808" y="91">⁒</text><text x="808" y="119">/</text>
<text x="120" y="155">Æ</text><text x="184" y="155">ẞ</text><text x="248" y="155">Ð</text><text x="248" y="183">ð</text><use href="#ra"/><text x="376" y="150">¬</text><text x="376" y="183">∑</text><text x="440" y="155">‹</text><text x="440" y="183">«</text><text x="504" y="155">›</text><text x="504" y="183">»</text><text x="568" y="155">♂</text><text x="568" y="183">º</text><text x="632" y="155">♀</text><text x="632" y="183">ª</text><text x="696" y="155">⚥</text><text x="696" y="183">ø</text><text x="760" y="155">⁅</text><text x="760" y="183">⁆</text><text x="824" y="155">‡</text><text x="824" y="183">†</text>
<text class="s" x="88" y="215">"</text><text class="s" x="88" y="240">'</text>
<text x="152" y="219">˘</text><text x="152" y="247">¥</text>
<text x="216" y="219">°</text><text x="216" y="247">•</text>
<text x="280" y="219">¢</text><text x="280" y="247">©</text>
<text x="344" y="219">☺</text><text x="344" y="247">›</text>
<text x="408" y="219">♡</text><text x="408" y="247">‹</text>
<text x="472" y="219">Ɒ</text>
<text class="s" x="536" y="215">⁎</text><text class="s" x="536" y="240">⁑</text>
<text class="s" x="600" y="215">ǃ</text><text class="s" x="600" y="240">‚</text>
<text x="664" y="219">√</text><text x="664" y="247">…</text><text class="s" x="692" y="232">„</text>
<text x="728" y="208">‒</text><text class="t" x="730" y="220">FD</text><text x="728" y="236">―</text><text class="t" x="730" y="250">HB</text>
<text class="s" x="399" y="277">HAIR SPACE</text><rect class="bx" x="440" y="310" width="6" height="5"/>
</g></g>

<g id="kb32" transform="translate(3027 2558)"><use href="#kb"/>
<g class="ch" style="color:#cc0044">
<text x="232" y="119">ȩ</text><text x="296" y="91">ℜ</text><text x="424" y="91">ℨ</text><text x="552" y="91">ℑ</text><text x="616" y="119">ꝺ</text>
<text x="440" y="155">ℌ</text>
<text x="280" y="219">ℭ</text><rect class="bx" x="420" y="206" width="14" height="16"/><text class="t" x="424" y="202">ȼ</text>
</g></g>
</svg>
